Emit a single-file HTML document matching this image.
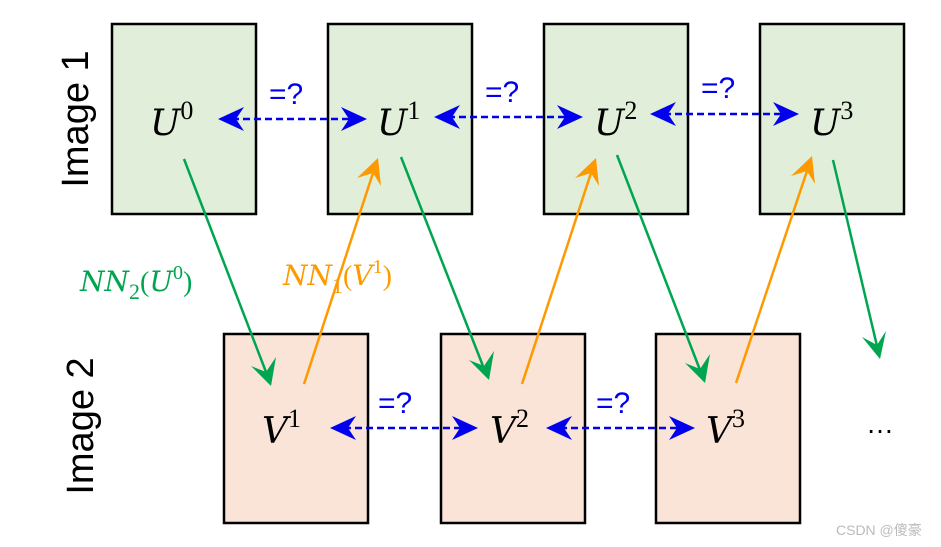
<!DOCTYPE html>
<html><head><meta charset="utf-8"><style>
html,body{margin:0;padding:0;background:#fff;}
svg{display:block;}
.m{font-family:"DejaVu Serif","Liberation Serif",serif;font-style:italic;}
.s{font-family:"Liberation Serif",serif;font-style:normal;}
</style></head><body>
<svg width="941" height="547" viewBox="0 0 941 547" xmlns="http://www.w3.org/2000/svg">
<defs>
<marker id="ab" viewBox="0 0 10 10" refX="9" refY="5" markerWidth="5.5" markerHeight="5.5" orient="auto-start-reverse" markerUnits="userSpaceOnUse" style="overflow:visible">
</marker>
</defs>
<!-- boxes -->
<g stroke="#000" stroke-width="2.5" fill="#e1eed9">
<rect x="112" y="24" width="144" height="190"/>
<rect x="328" y="24" width="144" height="190"/>
<rect x="544" y="24" width="144" height="190"/>
<rect x="760" y="24" width="144" height="190"/>
</g>
<g stroke="#000" stroke-width="2.5" fill="#fae4d8">
<rect x="224" y="334" width="144" height="189"/>
<rect x="441" y="334" width="144" height="189"/>
<rect x="656" y="334" width="144" height="189"/>
</g>
<!-- side labels -->
<text transform="translate(88,119) rotate(-90)" text-anchor="middle" font-family="Liberation Sans, sans-serif" font-size="38" fill="#000">Image 1</text>
<text transform="translate(93,426) rotate(-90)" text-anchor="middle" font-family="Liberation Sans, sans-serif" font-size="38" fill="#000">Image 2</text>
<!-- U labels -->
<g font-size="36" fill="#000">
<text x="150" y="135" class="m">U<tspan class="s" font-size="26" dy="-16">0</tspan></text>
<text x="377" y="135" class="m">U<tspan class="s" font-size="26" dy="-16">1</tspan></text>
<text x="594" y="135" class="m">U<tspan class="s" font-size="26" dy="-16">2</tspan></text>
<text x="810" y="135" class="m">U<tspan class="s" font-size="26" dy="-16">3</tspan></text>
<text x="262" y="443" class="m">V<tspan class="s" font-size="26" dy="-16">1</tspan></text>
<text x="490" y="443" class="m">V<tspan class="s" font-size="26" dy="-16">2</tspan></text>
<text x="706" y="443" class="m">V<tspan class="s" font-size="26" dy="-16">3</tspan></text>
</g>
<text x="866" y="433" font-family="Liberation Sans, sans-serif" font-size="28" fill="#000">…</text>
<!-- =? -->
<g font-family="Liberation Sans, sans-serif" font-size="30" fill="#0000ee">
<text x="269" y="104">=?</text>
<text x="485" y="102">=?</text>
<text x="701" y="98">=?</text>
<text x="378" y="413">=?</text>
<text x="596" y="413">=?</text>
</g>
<!-- dashed double arrows -->
<g stroke="#0000ee" stroke-width="2.5" stroke-dasharray="7,4" fill="none">
<line x1="232" y1="119" x2="352" y2="119"/>
<line x1="448" y1="117" x2="568" y2="117"/>
<line x1="664" y1="114" x2="785" y2="114"/>
<line x1="344" y1="428" x2="464" y2="428"/>
<line x1="560" y1="428" x2="680" y2="428"/>
</g>
<g fill="#0000ee">
<path d="M218,119 L244,107 L236,119 L244,131Z"/><path d="M367,119 L341,107 L349,119 L341,131Z"/>
<path d="M434,117 L460,105 L452,117 L460,129Z"/><path d="M583,117 L557,105 L565,117 L557,129Z"/>
<path d="M650,114 L676,102 L668,114 L676,126Z"/><path d="M799,114 L773,102 L781,114 L773,126Z"/>
<path d="M330,428 L356,416 L348,428 L356,440Z"/><path d="M478,428 L452,416 L460,428 L452,440Z"/>
<path d="M546,428 L572,416 L564,428 L572,440Z"/><path d="M695,428 L669,416 L677,428 L669,440Z"/>
</g>
<!-- green arrows -->
<g stroke="#00a550" stroke-width="2.5" fill="none">
<line x1="184" y1="159" x2="266" y2="372"/>
<line x1="401" y1="157" x2="483" y2="366"/>
<line x1="617" y1="155" x2="700" y2="370"/>
<line x1="833" y1="160" x2="877" y2="346"/>
</g>
<g fill="#00a550">
<path d="M271,386 L251,366 L266,372 L276,357Z"/>
<path d="M489,380 L469,360 L484,366 L494,351Z"/>
<path d="M705,383 L685,363 L700,369 L710,354Z"/>
<path d="M880,359 L862,337 L877,345 L886,331Z"/>
</g>
<!-- orange arrows -->
<g stroke="#ff9900" stroke-width="2.5" fill="none">
<line x1="304" y1="384" x2="373" y2="173"/>
<line x1="522" y1="384" x2="591" y2="173"/>
<line x1="736" y1="383" x2="807" y2="171"/>
</g>
<g fill="#ff9900">
<path d="M378,158 L381,186 L373,173 L357,178Z"/>
<path d="M596,158 L599,186 L591,173 L575,178Z"/>
<path d="M812,156 L815,184 L807,171 L791,176Z"/>
</g>
<!-- NN labels -->
<text x="80" y="291" font-size="28" fill="#00a550" class="m">NN<tspan class="s" font-size="22" dy="8">2</tspan><tspan class="s" dy="-8">(</tspan>U<tspan class="s" font-size="20" dy="-12">0</tspan><tspan class="s" dy="12">)</tspan></text>
<text x="283" y="285" font-size="28" fill="#ff9900" class="m">NN<tspan class="s" font-size="22" dy="8">1</tspan><tspan class="s" dy="-8">(</tspan>V<tspan class="s" font-size="20" dy="-12">1</tspan><tspan class="s" dy="12">)</tspan></text>
<text x="836" y="535" font-family="Liberation Sans, 'Noto Sans CJK SC', sans-serif" font-size="14" fill="#bbb">CSDN @傻豪</text>
</svg>
</body></html>
